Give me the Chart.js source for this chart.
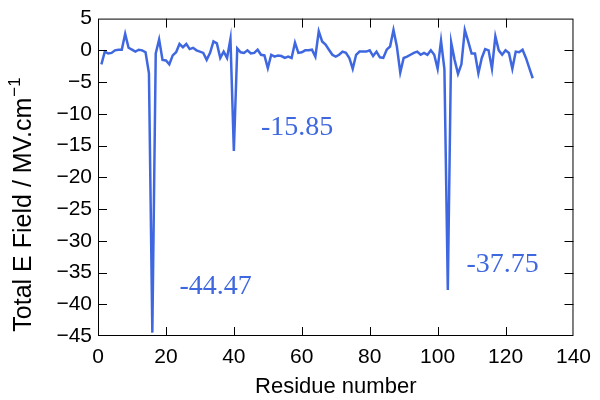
<!DOCTYPE html>
<html>
<head>
<meta charset="utf-8">
<script src="https://cdn.jsdelivr.net/npm/chart.js@4/dist/chart.umd.min.js"></script>
<style>
  html, body { margin: 0; padding: 0; background: #ffffff; }
  #wrap { width: 600px; height: 400px; }
</style>
</head>
<body>
<div id="wrap"><canvas id="c" width="600" height="400"></canvas></div>
<script>
// Residue numbers 1..128
const residues = Array.from({length: 128}, (_, i) => i + 1);
// Total electric field per residue (MV/cm)
const fieldValues = [
  -2.2, -0.2, -0.5, -0.4, 0.0, 0.1, 0.1, 2.6, 0.4, 0.1,
  -0.2, 0.1, 0.0, -0.3, -3.6, -44.47, -0.5, 1.7, -1.5, -1.6,
  -2.2, -0.8, -0.3, 1.0, 0.5, 1.0, 0.2, 0.4, 0.0, -0.2,
  -0.4, -1.5, -0.4, 1.4, 1.1, -1.2, -0.2, -1.2, 1.8, -15.85,
  0.3, -0.3, -0.4, 0.0, -0.5, -0.4, 0.1, -0.7, -0.8, -2.8,
  -0.7, -1.0, -0.8, -0.9, -1.2, -1.0, -1.2, 1.2, -0.4, -0.3,
  0.0, 0.0, 0.1, -1.0, 3.0, 1.4, 0.9, 0.1, -0.7, -1.0,
  -0.7, -0.2, -0.4, -1.2, -2.9, -0.7, -0.2, -0.2, -0.2, 0.0,
  -0.9, -0.2, -1.1, -1.2, 0.1, 0.6, 3.2, 0.6, -3.5, -1.2,
  -1.0, -0.7, -0.4, -0.2, -0.7, -0.4, -0.7, 0.0, -0.7, -2.9,
  1.5, -3.0, -37.75, 1.2, -1.5, -3.7, -2.2, 3.2, 1.4, -0.5,
  -0.5, -3.6, -1.2, 0.2, 0.0, -2.9, 2.2, 0.0, -0.7, 0.0,
  -0.4, -2.9, -0.2, -0.3, 0.1, -1.2, -2.8, -4.4
];
// Tick values
const xTicks = [0, 20, 40, 60, 80, 100, 120, 140];
const yTicks = [5, 0, -5, -10, -15, -20, -25, -30, -35, -40, -45];
// Axis titles
const xTitle = 'Residue number';
const yTitleMain = 'Total E Field / MV.cm';
const yTitleSup = '\u22121';
// Annotated minima: label text and anchor (data coordinates)
const annotTexts = ['-44.47', '-15.85', '-37.75'];
const annotX = [24, 48, 108.5];
const annotY = [-37.3, -12.1, -33.7];

const lineColor = '#3f68e0';
const sansFont = '"Liberation Sans", Arial, sans-serif';

const framePlugin = {
  id: 'frameTicks',
  afterDraw(chart) {
    const {ctx, chartArea: a, scales} = chart;
    const xs = scales.x, ys = scales.y;
    ctx.save();
    ctx.strokeStyle = '#000';
    ctx.lineWidth = 1;
    ctx.strokeRect(a.left + 0.5, a.top + 0.5, a.right - a.left - 1, a.bottom - a.top - 1);
    const L = 9;
    ctx.beginPath();
    xTicks.forEach(v => {
      const px = Math.round(xs.getPixelForValue(v)) + 0.5;
      if (v === xTicks[0] || v === xTicks[xTicks.length - 1]) return;
      ctx.moveTo(px, a.bottom); ctx.lineTo(px, a.bottom - L);
      ctx.moveTo(px, a.top); ctx.lineTo(px, a.top + L);
    });
    yTicks.forEach(v => {
      const py = Math.round(ys.getPixelForValue(v)) + 0.5;
      if (v === yTicks[0] || v === yTicks[yTicks.length - 1]) return;
      ctx.moveTo(a.left, py); ctx.lineTo(a.left + L, py);
      ctx.moveTo(a.right, py); ctx.lineTo(a.right - L, py);
    });
    ctx.stroke();

    // Y axis title with superscript
    ctx.fillStyle = '#000';
    ctx.translate(24, 205);
    ctx.rotate(-Math.PI / 2);
    ctx.textBaseline = 'middle';
    ctx.font = '25px ' + sansFont;
    const wMain = ctx.measureText(yTitleMain).width;
    ctx.font = '17px ' + sansFont;
    const wSup = ctx.measureText(yTitleSup).width;
    const start = -(wMain + wSup) / 2;
    ctx.textAlign = 'left';
    ctx.font = '25px ' + sansFont;
    ctx.fillText(yTitleMain, start, 0);
    ctx.font = '17px ' + sansFont;
    ctx.fillText(yTitleSup, start + wMain + 1, -9);
    ctx.setTransform(1, 0, 0, 1, 0, 0);

    // annotations
    ctx.fillStyle = lineColor;
    ctx.font = '28px "Liberation Serif", "DejaVu Serif", serif';
    ctx.textAlign = 'left';
    ctx.textBaseline = 'middle';
    annotTexts.forEach((t, i) => {
      ctx.fillText(t, xs.getPixelForValue(annotX[i]), ys.getPixelForValue(annotY[i]));
    });
    ctx.restore();
  }
};

const fmtMinus = v => (v < 0 ? '\u2212' + Math.abs(v) : String(v));

new Chart(document.getElementById('c'), {
  type: 'line',
  data: {
    labels: residues,
    datasets: [{
      data: residues.map((r, i) => ({x: r, y: fieldValues[i]})),
      borderColor: lineColor,
      borderWidth: 2.5,
      pointRadius: 0,
      tension: 0,
      fill: false
    }]
  },
  options: {
    responsive: false,
    animation: false,
    devicePixelRatio: 1,
    layout: { padding: { top: 17, right: 24, left: 0, bottom: 0 } },
    plugins: { legend: { display: false }, tooltip: { enabled: false } },
    scales: {
      x: {
        type: 'linear',
        min: 0, max: 140,
        afterFit(s) { s.height = 64; },
        afterBuildTicks(s) { s.ticks = xTicks.map(v => ({value: v})); },
        grid: { display: false, drawTicks: false },
        border: { display: false },
        ticks: {
          color: '#000', padding: 9,
          font: { family: sansFont, size: 21 },
          maxRotation: 0
        },
        title: {
          display: true, text: xTitle, color: '#000',
          font: { family: sansFont, size: 22 },
          padding: { top: 2, bottom: 0 }
        }
      },
      y: {
        type: 'linear',
        min: -45, max: 5,
        afterFit(s) { s.width = 98; },
        afterBuildTicks(s) { s.ticks = yTicks.map(v => ({value: v})); },
        grid: { display: false, drawTicks: false },
        border: { display: false },
        ticks: {
          color: '#000', padding: 6,
          font: { family: sansFont, size: 21 },
          callback: v => fmtMinus(v)
        },
        title: { display: false }
      }
    }
  },
  plugins: [framePlugin]
});
</script>
</body>
</html>
